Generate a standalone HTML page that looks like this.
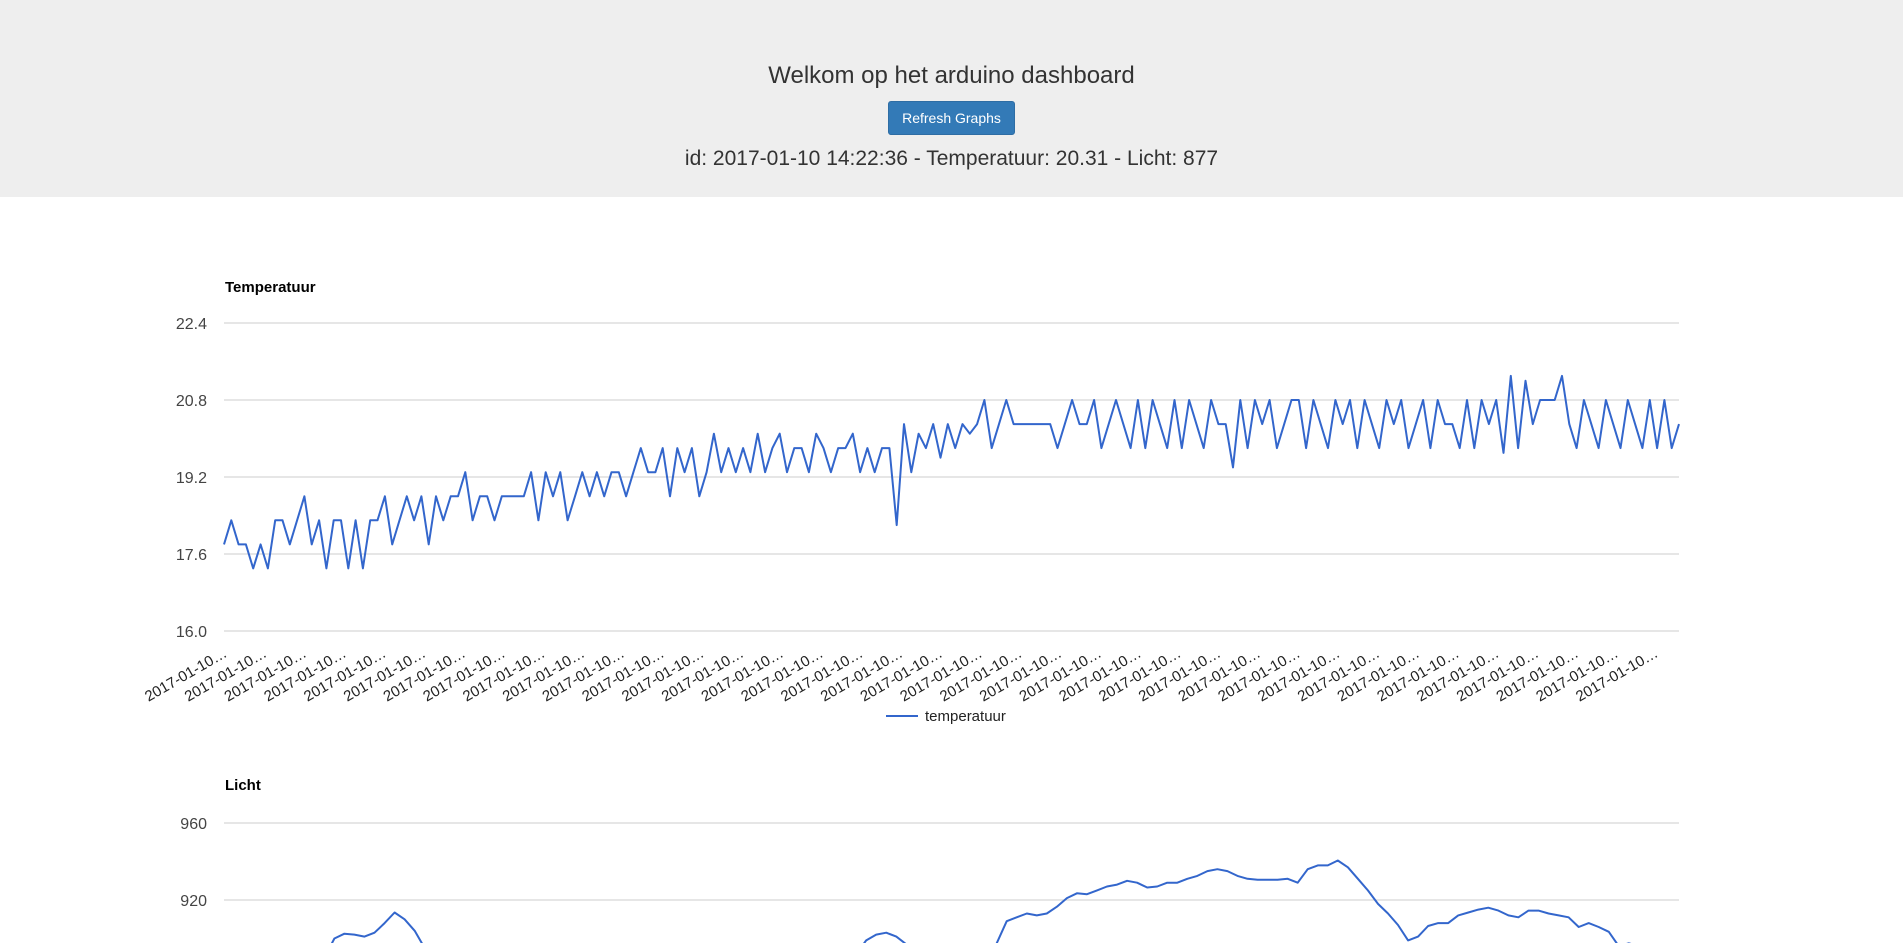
<!DOCTYPE html>
<html><head><meta charset="utf-8">
<style>
html,body{margin:0;padding:0;width:1903px;height:943px;overflow:hidden;background:#fff;font-family:"Liberation Sans",sans-serif;}
#hdr{position:absolute;left:0;top:0;width:1903px;height:197px;background:#eeeeee;}
#ttl{position:absolute;left:0;width:1903px;top:62px;text-align:center;font-size:24px;color:#333;}
#btn{position:absolute;left:888px;top:101px;width:127px;height:34px;background:#337ab7;border:1px solid #2e6da4;box-sizing:border-box;border-radius:3px;color:#fff;font-size:14px;line-height:32px;text-align:center;font-family:"Liberation Sans",sans-serif;padding:0;}
#info{position:absolute;left:0;width:1903px;top:147px;text-align:center;font-size:21px;color:#333;}
svg{position:absolute;left:0;top:0;}
</style></head><body>
<div id="hdr">
<div id="ttl">Welkom op het arduino dashboard</div>
<button id="btn">Refresh Graphs</button>
<div id="info">id: 2017-01-10 14:22:36 - Temperatuur: 20.31 - Licht: 877</div>
</div>
<svg id="chart" width="1903" height="943"></svg>
<script>
const tempTicks=[16.0,17.6,19.2,20.8,22.4];
const tempValues=[17.8,18.3,17.8,17.8,17.3,17.8,17.3,18.3,18.3,17.8,
18.3,18.8,17.8,18.3,17.3,18.3,18.3,17.3,18.3,17.3,
18.3,18.3,18.8,17.8,18.3,18.8,18.3,18.8,17.8,18.8,
18.3,18.8,18.8,19.3,18.3,18.8,18.8,18.3,18.8,18.8,
18.8,18.8,19.3,18.3,19.3,18.8,19.3,18.3,18.8,19.3,
18.8,19.3,18.8,19.3,19.3,18.8,19.3,19.8,19.3,19.3,
19.8,18.8,19.8,19.3,19.8,18.8,19.3,20.1,19.3,19.8,
19.3,19.8,19.3,20.1,19.3,19.8,20.1,19.3,19.8,19.8,
19.3,20.1,19.8,19.3,19.8,19.8,20.1,19.3,19.8,19.3,
19.8,19.8,18.2,20.3,19.3,20.1,19.8,20.3,19.6,20.3,
19.8,20.3,20.1,20.3,20.8,19.8,20.3,20.8,20.3,20.3,
20.3,20.3,20.3,20.3,19.8,20.3,20.8,20.3,20.3,20.8,
19.8,20.3,20.8,20.3,19.8,20.8,19.8,20.8,20.3,19.8,
20.8,19.8,20.8,20.3,19.8,20.8,20.3,20.3,19.4,20.8,
19.8,20.8,20.3,20.8,19.8,20.3,20.8,20.8,19.8,20.8,
20.3,19.8,20.8,20.3,20.8,19.8,20.8,20.3,19.8,20.8,
20.3,20.8,19.8,20.3,20.8,19.8,20.8,20.3,20.3,19.8,
20.8,19.8,20.8,20.3,20.8,19.7,21.3,19.8,21.2,20.3,
20.8,20.8,20.8,21.3,20.3,19.8,20.8,20.3,19.8,20.8,
20.3,19.8,20.8,20.3,19.8,20.8,19.8,20.8,19.8,20.3];
const lichtTicks=[920,960];
const lichtValues=[880,880,881,881,882,882,883,884,886,888,
890,900,902.5,902,901,903,908,913.5,910,904,
895,888,885,884,884,884,884,884,884,884,884,884,884,884,884,884,884,884,884,884,
884,884,884,884,884,884,884,884,884,884,884,884,884,884,884,884,884,884,884,884,
885,886,888,892,899,902,903,901,897,888,
885,884,884,884,884,886,890,897.5,909,911,
913,912,913,916.5,921,923.5,923,925,927,928,
930,929,926.5,927,929,929,931,932.5,935,936,
935,932.5,931,930.5,930.5,930.5,931,929,936,938,
938,940.5,937,931,925,918,913,907,899,901,
906.5,908,908,912,913.5,915,916,914.5,912,911,
914.5,914.5,913,912,911,906,908,906,903.5,896,
897.5,896,893,890,888,887];
const xLabel="2017-01-10\u2026";
const xLabelCount=37;

const NS="http://www.w3.org/2000/svg";
const svg=document.getElementById('chart');
const X0=224,X1=1679;
function mk(t,a){const e=document.createElementNS(NS,t);for(const k in a)e.setAttribute(k,a[k]);svg.appendChild(e);return e;}
function tempY(v){return 631-(v-16)/1.6*77;}
function lichtYv(v){return 823+(960-v)/40*77;}
function xAt(i,n){return X0+i*(X1-X0)/(n-1);}

let t=mk('text',{x:225,y:292,'font-size':'15','font-weight':'bold',fill:'#000'});t.textContent='Temperatuur';


tempTicks.forEach(v=>{
 const l=mk('line',{x1:X0,x2:X1,y1:tempY(v),y2:tempY(v),stroke:'#cccccc','stroke-width':1});
 
 
 const tx=mk('text',{x:207,y:tempY(v)+6,'text-anchor':'end','font-size':'16',fill:'#444'});tx.textContent=v.toFixed(1);
 
 
});
let d='';tempValues.forEach((v,i)=>{d+=(i?'L':'M')+xAt(i,tempValues.length).toFixed(1)+' '+tempY(v).toFixed(1);});
const tp=mk('path',{d:d,fill:'none',stroke:'#3366cc','stroke-width':2,'stroke-linejoin':'round'});


for(let i=0;i<xLabelCount;i++){
 const x=228+i*39.75,y=656;
 const tx=mk('text',{x:x,y:y,'text-anchor':'end','font-size':'15',fill:'#222',transform:'rotate(-30 '+x+' '+y+')'});
 tx.textContent=xLabel;
 
 
}
const ll=mk('line',{x1:886,x2:918,y1:716,y2:716,stroke:'#3366cc','stroke-width':2});


const lt=mk('text',{x:925,y:721,'font-size':'15',fill:'#222'});lt.textContent='temperatuur';



t=mk('text',{x:225,y:790,'font-size':'15','font-weight':'bold',fill:'#000'});t.textContent='Licht';


lichtTicks.forEach(v=>{
 const l=mk('line',{x1:X0,x2:X1,y1:lichtYv(v),y2:lichtYv(v),stroke:'#cccccc','stroke-width':1});
 
 
 const tx=mk('text',{x:207,y:lichtYv(v)+6,'text-anchor':'end','font-size':'16',fill:'#444'});tx.textContent=String(v);
 
 
});
d='';lichtValues.forEach((v,i)=>{d+=(i?'L':'M')+xAt(i,lichtValues.length).toFixed(1)+' '+lichtYv(v).toFixed(1);});
const lp=mk('path',{d:d,fill:'none',stroke:'#3366cc','stroke-width':2,'stroke-linejoin':'round'});


</script>
</body></html>
